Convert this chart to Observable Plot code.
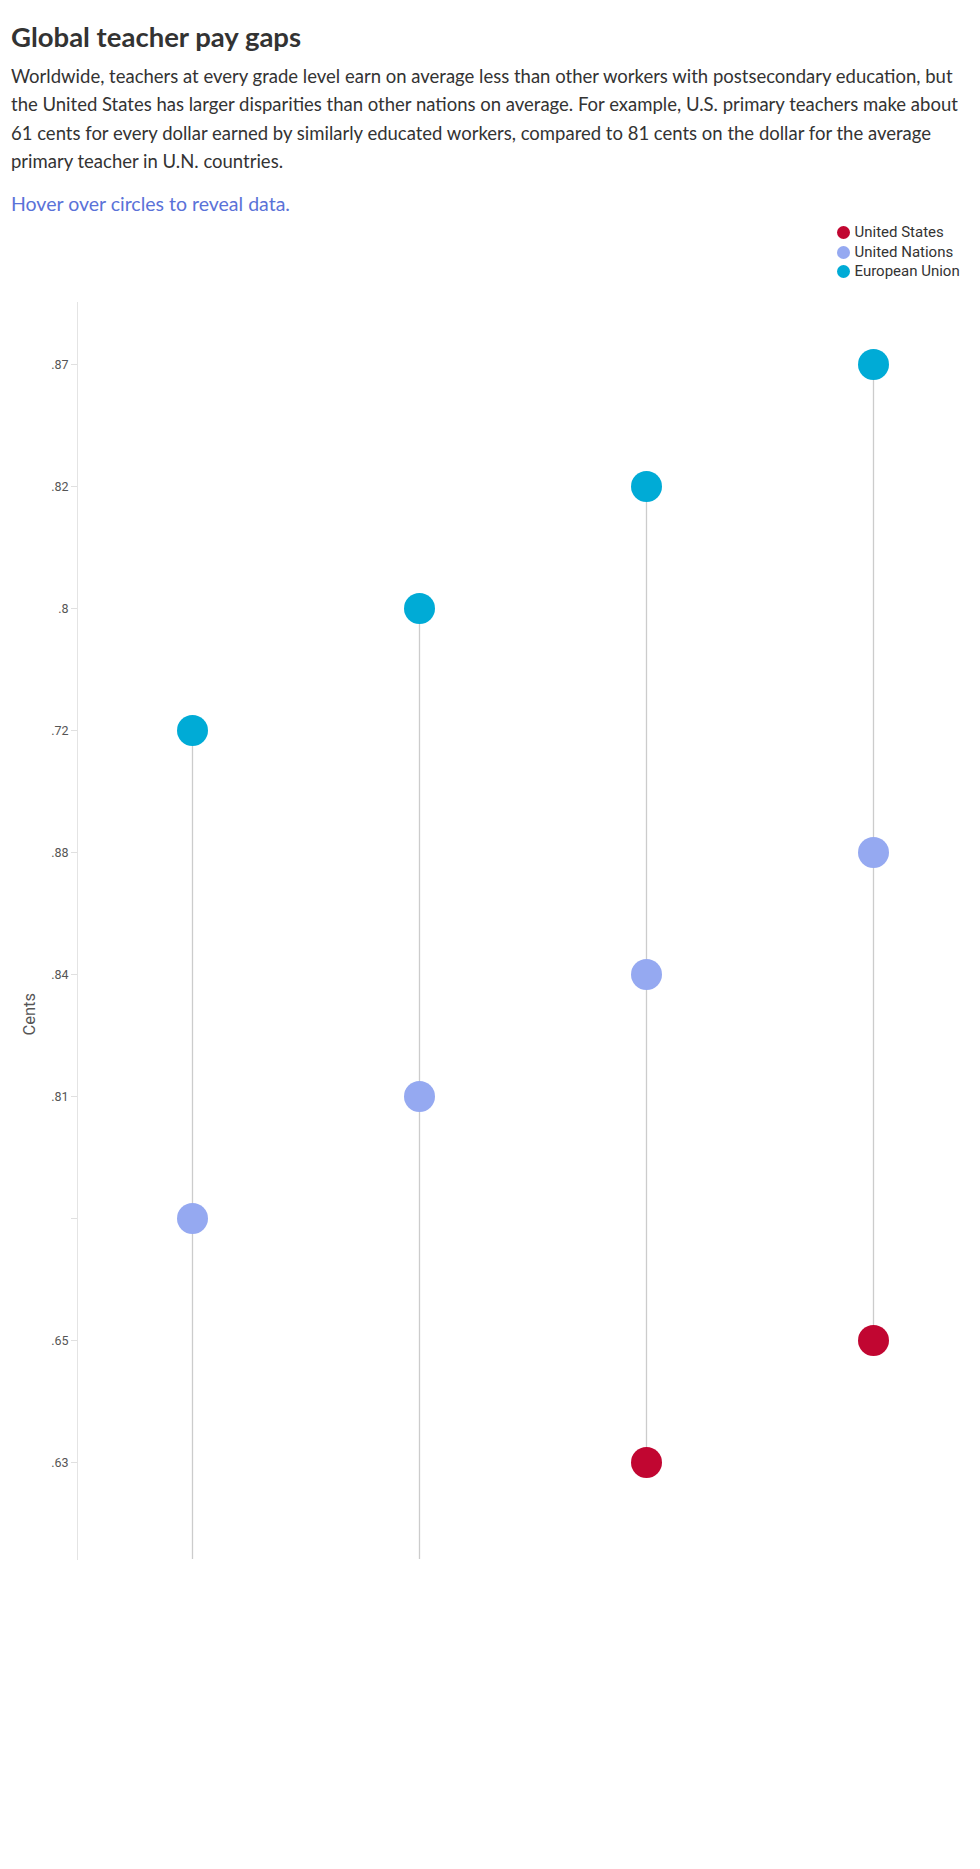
<!DOCTYPE html>
<html>
<head>
<meta charset="utf-8">
<script src="https://cdn.jsdelivr.net/npm/d3@7"></script>
<script src="https://cdn.jsdelivr.net/npm/@observablehq/plot@0.6"></script>
<style>
  html, body { margin: 0; padding: 0; background: #fff; }
  body { width: 980px; height: 1869px; position: relative; overflow: hidden; color: #333; }
  #title { position: absolute; left: 11px; top: 19px; margin: 0; font: 700 27.5px/36px Lato, sans-serif; color: #333; white-space: nowrap; }
  #subtitle { position: absolute; left: 11px; top: 62px; margin: 0; font: 400 18.5px/28.4px Lato, sans-serif; color: #333; white-space: nowrap; }
  #hover { position: absolute; left: 11px; top: 190px; margin: 0; font: 400 19.5px/28px Lato, sans-serif; color: #5a72d8; white-space: nowrap; }
  #legend { position: absolute; left: 837px; top: 223px; font: 400 15px/19.5px Roboto, sans-serif; color: #333; }
  #legend .item { display: flex; align-items: center; height: 19.5px; white-space: nowrap; }
  #legend .sw { width: 13px; height: 13px; border-radius: 50%; margin-right: 4.5px; flex: none; }
  #chart { position: absolute; left: 0; top: 290px; }
</style>
</head>
<body>
<h1 id="title">Global teacher pay gaps</h1>
<p id="subtitle">Worldwide, teachers at every grade level earn on average less than other workers with postsecondary education, but<br>the United States has larger disparities than other nations on average. For example, U.S. primary teachers make about<br>61 cents for every dollar earned by similarly educated workers, compared to 81 cents on the dollar for the average<br>primary teacher in U.N. countries.</p>
<p id="hover">Hover over circles to reveal data.</p>
<div id="legend"></div>
<div id="chart"></div>
<script>
// ---- data ----
const levels = ["Pre-primary", "Primary", "Lower secondary", "Upper secondary"];
const euValues = [".72", ".8", ".82", ".87"];
const unValues = ["", ".81", ".84", ".88"];
const usValues = [null, null, ".63", ".65"];
const yTicks = [".87", ".82", ".8", ".72", ".88", ".84", ".81", "", ".65", ".63"];
const seriesNames = ["United States", "United Nations", "European Union"];
const seriesColors = ["#c10631", "#95a9f1", "#00abd6"];
const axisLabel = "Cents";

// ---- tables ----
const rows = levels.flatMap((level, i) => [
  {level, series: "European Union", value: euValues[i]},
  {level, series: "United Nations", value: unValues[i]},
  {level, series: "United States", value: usValues[i]}
]).filter(d => d.value != null);
const stems = levels.map((level, i) => ({level, top: euValues[i], bottom: usValues[i]}));

// ---- legend ----
const legend = document.getElementById("legend");
seriesNames.forEach((name, i) => {
  const item = document.createElement("div");
  item.className = "item";
  const sw = document.createElement("span");
  sw.className = "sw";
  sw.style.background = seriesColors[i];
  const lab = document.createElement("span");
  lab.textContent = name;
  item.append(sw, lab);
  legend.append(item);
});

// ---- chart ----
const stemStyle = {stroke: "#cccccc", strokeWidth: 1.3};
// stems without a U.S. value run to the bottom of the frame
const openStems = stems.filter(d => d.bottom == null);
const openStemMark = Plot.RuleX
  ? new Plot.RuleX(openStems, {x: "level", y1: "top", ...stemStyle})
  : Plot.ruleX(openStems, {x: "level", y1: "top", y2: () => yTicks[yTicks.length - 1], ...stemStyle});

const chart = Plot.plot({
  width: 980,
  height: 1290,
  marginTop: 12,
  marginBottom: 21,
  marginLeft: 77,
  marginRight: 0,
  style: {fontFamily: "Roboto, sans-serif", background: "transparent", overflow: "visible"},
  x: {type: "point", domain: levels, padding: 0.483, align: 0.518, axis: null},
  y: {type: "point", domain: yTicks, padding: 0.638, align: 0.391, axis: null},
  color: {domain: seriesNames, range: seriesColors},
  marks: [
    Plot.frame({anchor: "left", stroke: "#e4e4e4", strokeWidth: 1}),
    Plot.axisY({tickSize: 6, tickPadding: 3, stroke: "#e0e0e0", fill: "#555", fontSize: 12.5, label: null}),
    Plot.text([axisLabel], {text: d => d, frameAnchor: "left", y: [".84"], dy: 61, dx: -48, rotate: -90, fontSize: 16.5, fill: "#555"}),
    Plot.ruleX(stems.filter(d => d.bottom != null), {x: "level", y1: "top", y2: "bottom", ...stemStyle}),
    openStemMark,
    Plot.dot(rows, {x: "level", y: "value", r: 15.5, fill: "series", title: d => `${d.series}, ${d.level}: ${d.value || "n/a"}`})
  ]
});
document.getElementById("chart").append(chart);
</script>
</body>
</html>
